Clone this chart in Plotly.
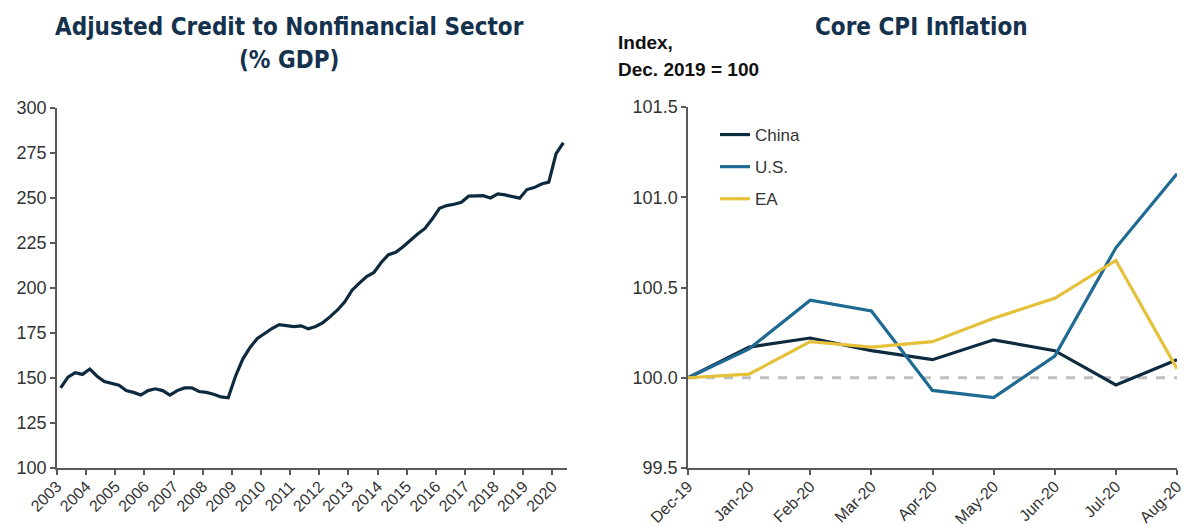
import plotly.graph_objects as go

# ---------------- Data ----------------
credit_start_year = 2003
credit_values = [
    144.5, 150.5, 153.0, 152.0,   # 2003
    155.0, 151.0, 148.0, 147.0,   # 2004
    146.0, 143.0, 142.0, 140.5,   # 2005
    143.0, 144.0, 143.0, 140.5,   # 2006
    143.0, 144.5, 144.5, 142.5,   # 2007
    142.0, 141.0, 139.5, 139.0,   # 2008
    151.0, 160.5, 167.0, 172.0,   # 2009
    175.0, 177.5, 179.7, 179.2,   # 2010
    178.6, 179.0, 177.3, 178.6,   # 2011
    180.8, 184.1, 187.8, 192.3,   # 2012
    198.8, 202.7, 206.4, 208.6,   # 2013
    214.2, 218.5, 219.8, 222.9,   # 2014
    226.7, 230.0, 233.1, 238.3,   # 2015
    244.3, 245.8, 246.5, 247.6,   # 2016
    251.0, 251.0, 251.3, 250.0,   # 2017
    252.3, 251.7, 250.8, 249.9,   # 2018
    254.7, 255.8, 257.8, 258.8,   # 2019
    274.6, 280.7,                 # 2020
]
credit_year_ticks = list(range(2003, 2021))
credit_y_ticks = [100, 125, 150, 175, 200, 225, 250, 275, 300]

cpi_months = ["Dec-19", "Jan-20", "Feb-20", "Mar-20", "Apr-20",
              "May-20", "Jun-20", "Jul-20", "Aug-20"]
cpi_china = [100.00, 100.17, 100.22, 100.15, 100.10, 100.21, 100.15, 99.96, 100.10]
cpi_us = [100.00, 100.16, 100.43, 100.37, 99.93, 99.89, 100.12, 100.72, 101.13]
cpi_ea = [100.00, 100.02, 100.20, 100.17, 100.20, 100.33, 100.44, 100.65, 100.05]
cpi_baseline = 100.0
cpi_y_ticks = [99.5, 100.0, 100.5, 101.0, 101.5]

# ---------------- Styles ----------------
NAVY = "#0E2A3E"
BLUE = "#1F6A93"
GOLD = "#E5C13A"
TITLE_C = "#14324D"
TICK_C = "#333333"
AXIS_C = "#595959"
TICK_FONT = dict(family="Liberation Sans, Arial, sans-serif", size=18, color=TICK_C)
XTICK_FONT = dict(family="Liberation Sans, Arial, sans-serif", size=16, color=TICK_C)
TITLE_FONT = dict(family="Liberation Sans Narrow, DejaVu Sans Condensed, Arial Narrow, sans-serif",
                  size=24, color=TITLE_C)

W, H = 1184, 526

def px_x(p):
    return p / W

def px_y(p):
    return 1 - p / H

credit_x = [credit_start_year + (i + 0.5) / 4 for i in range(len(credit_values))]

fig = go.Figure()

fig.add_trace(go.Scatter(
    x=credit_x, y=credit_values, mode="lines",
    line=dict(color=NAVY, width=3.2), showlegend=False,
    xaxis="x", yaxis="y", name="Credit",
))

fig.add_trace(go.Scatter(
    x=cpi_months, y=[cpi_baseline] * len(cpi_months), mode="lines",
    line=dict(color="#BFBFBF", width=3, dash="dash"), showlegend=False,
    xaxis="x2", yaxis="y2", hoverinfo="skip",
))
for name, vals, col in [("China", cpi_china, NAVY), ("U.S.", cpi_us, BLUE), ("EA", cpi_ea, GOLD)]:
    fig.add_trace(go.Scatter(
        x=cpi_months, y=vals, mode="lines", name=name,
        line=dict(color=col, width=3.2), legendgroup=name,
        xaxis="x2", yaxis="y2",
    ))

common_axis = dict(showgrid=False, zeroline=False, showline=True, linecolor=AXIS_C,
                   linewidth=1.5, ticks="outside", ticklen=5, tickcolor=AXIS_C, tickwidth=1.5,
                   automargin=False)

fig.update_layout(
    width=W, height=H,
    margin=dict(l=0, r=0, t=0, b=0, autoexpand=False),
    paper_bgcolor="white", plot_bgcolor="white",
    xaxis=dict(domain=[px_x(57), px_x(567)], range=[2003, 2020.5],
               tickmode="array", tickvals=credit_year_ticks,
               ticktext=[str(y) for y in credit_year_ticks],
               tickangle=-45, tickfont=XTICK_FONT, anchor="y",
               ticklabelstandoff=-4, **common_axis),
    yaxis=dict(domain=[px_y(468), px_y(108)], range=[100, 300],
               tickmode="array", tickvals=credit_y_ticks,
               tickfont=TICK_FONT, anchor="x", **common_axis),
    xaxis2=dict(domain=[px_x(688), px_x(1177)], type="category", range=[0, 8],
                tickangle=-45, tickfont=XTICK_FONT, anchor="y2",
                ticklabelstandoff=-4, **common_axis),
    yaxis2=dict(domain=[px_y(468), px_y(107)], range=[99.5, 101.5],
                tickmode="array", tickvals=cpi_y_ticks,
                ticktext=[f"{v:.1f}" for v in cpi_y_ticks],
                tickfont=TICK_FONT, anchor="x2", **common_axis),
    legend=dict(x=px_x(715), y=px_y(117), xanchor="left", yanchor="top",
                font=dict(family="Liberation Sans, Arial, sans-serif", size=17, color=TICK_C),
                bgcolor="rgba(0,0,0,0)", tracegroupgap=7, itemwidth=30),
    annotations=[
        dict(text="<b>Adjusted Credit to Nonfinancial Sector</b>", x=px_x(289), y=px_y(27),
             xref="paper", yref="paper", showarrow=False, font=TITLE_FONT,
             xanchor="center", yanchor="middle"),
        dict(text="<b>(% GDP)</b>", x=px_x(289), y=px_y(60),
             xref="paper", yref="paper", showarrow=False, font=TITLE_FONT,
             xanchor="center", yanchor="middle"),
        dict(text="<b>Core CPI Inflation</b>", x=px_x(921), y=px_y(27),
             xref="paper", yref="paper", showarrow=False, font=TITLE_FONT,
             xanchor="center", yanchor="middle"),
        dict(text="<b>Index,</b>", x=px_x(616), y=px_y(43),
             xref="paper", yref="paper", showarrow=False,
             font=dict(family="Liberation Sans, Arial, sans-serif", size=19, color="#111111"),
             xanchor="left", yanchor="middle"),
        dict(text="<b>Dec. 2019 = 100</b>", x=px_x(616), y=px_y(69),
             xref="paper", yref="paper", showarrow=False,
             font=dict(family="Liberation Sans, Arial, sans-serif", size=19, color="#111111"),
             xanchor="left", yanchor="middle"),
    ],
)

fig.write_html("out.html", config={"displayModeBar": False},
               post_script="document.body.style.margin='0px';document.body.style.overflow='hidden';")
